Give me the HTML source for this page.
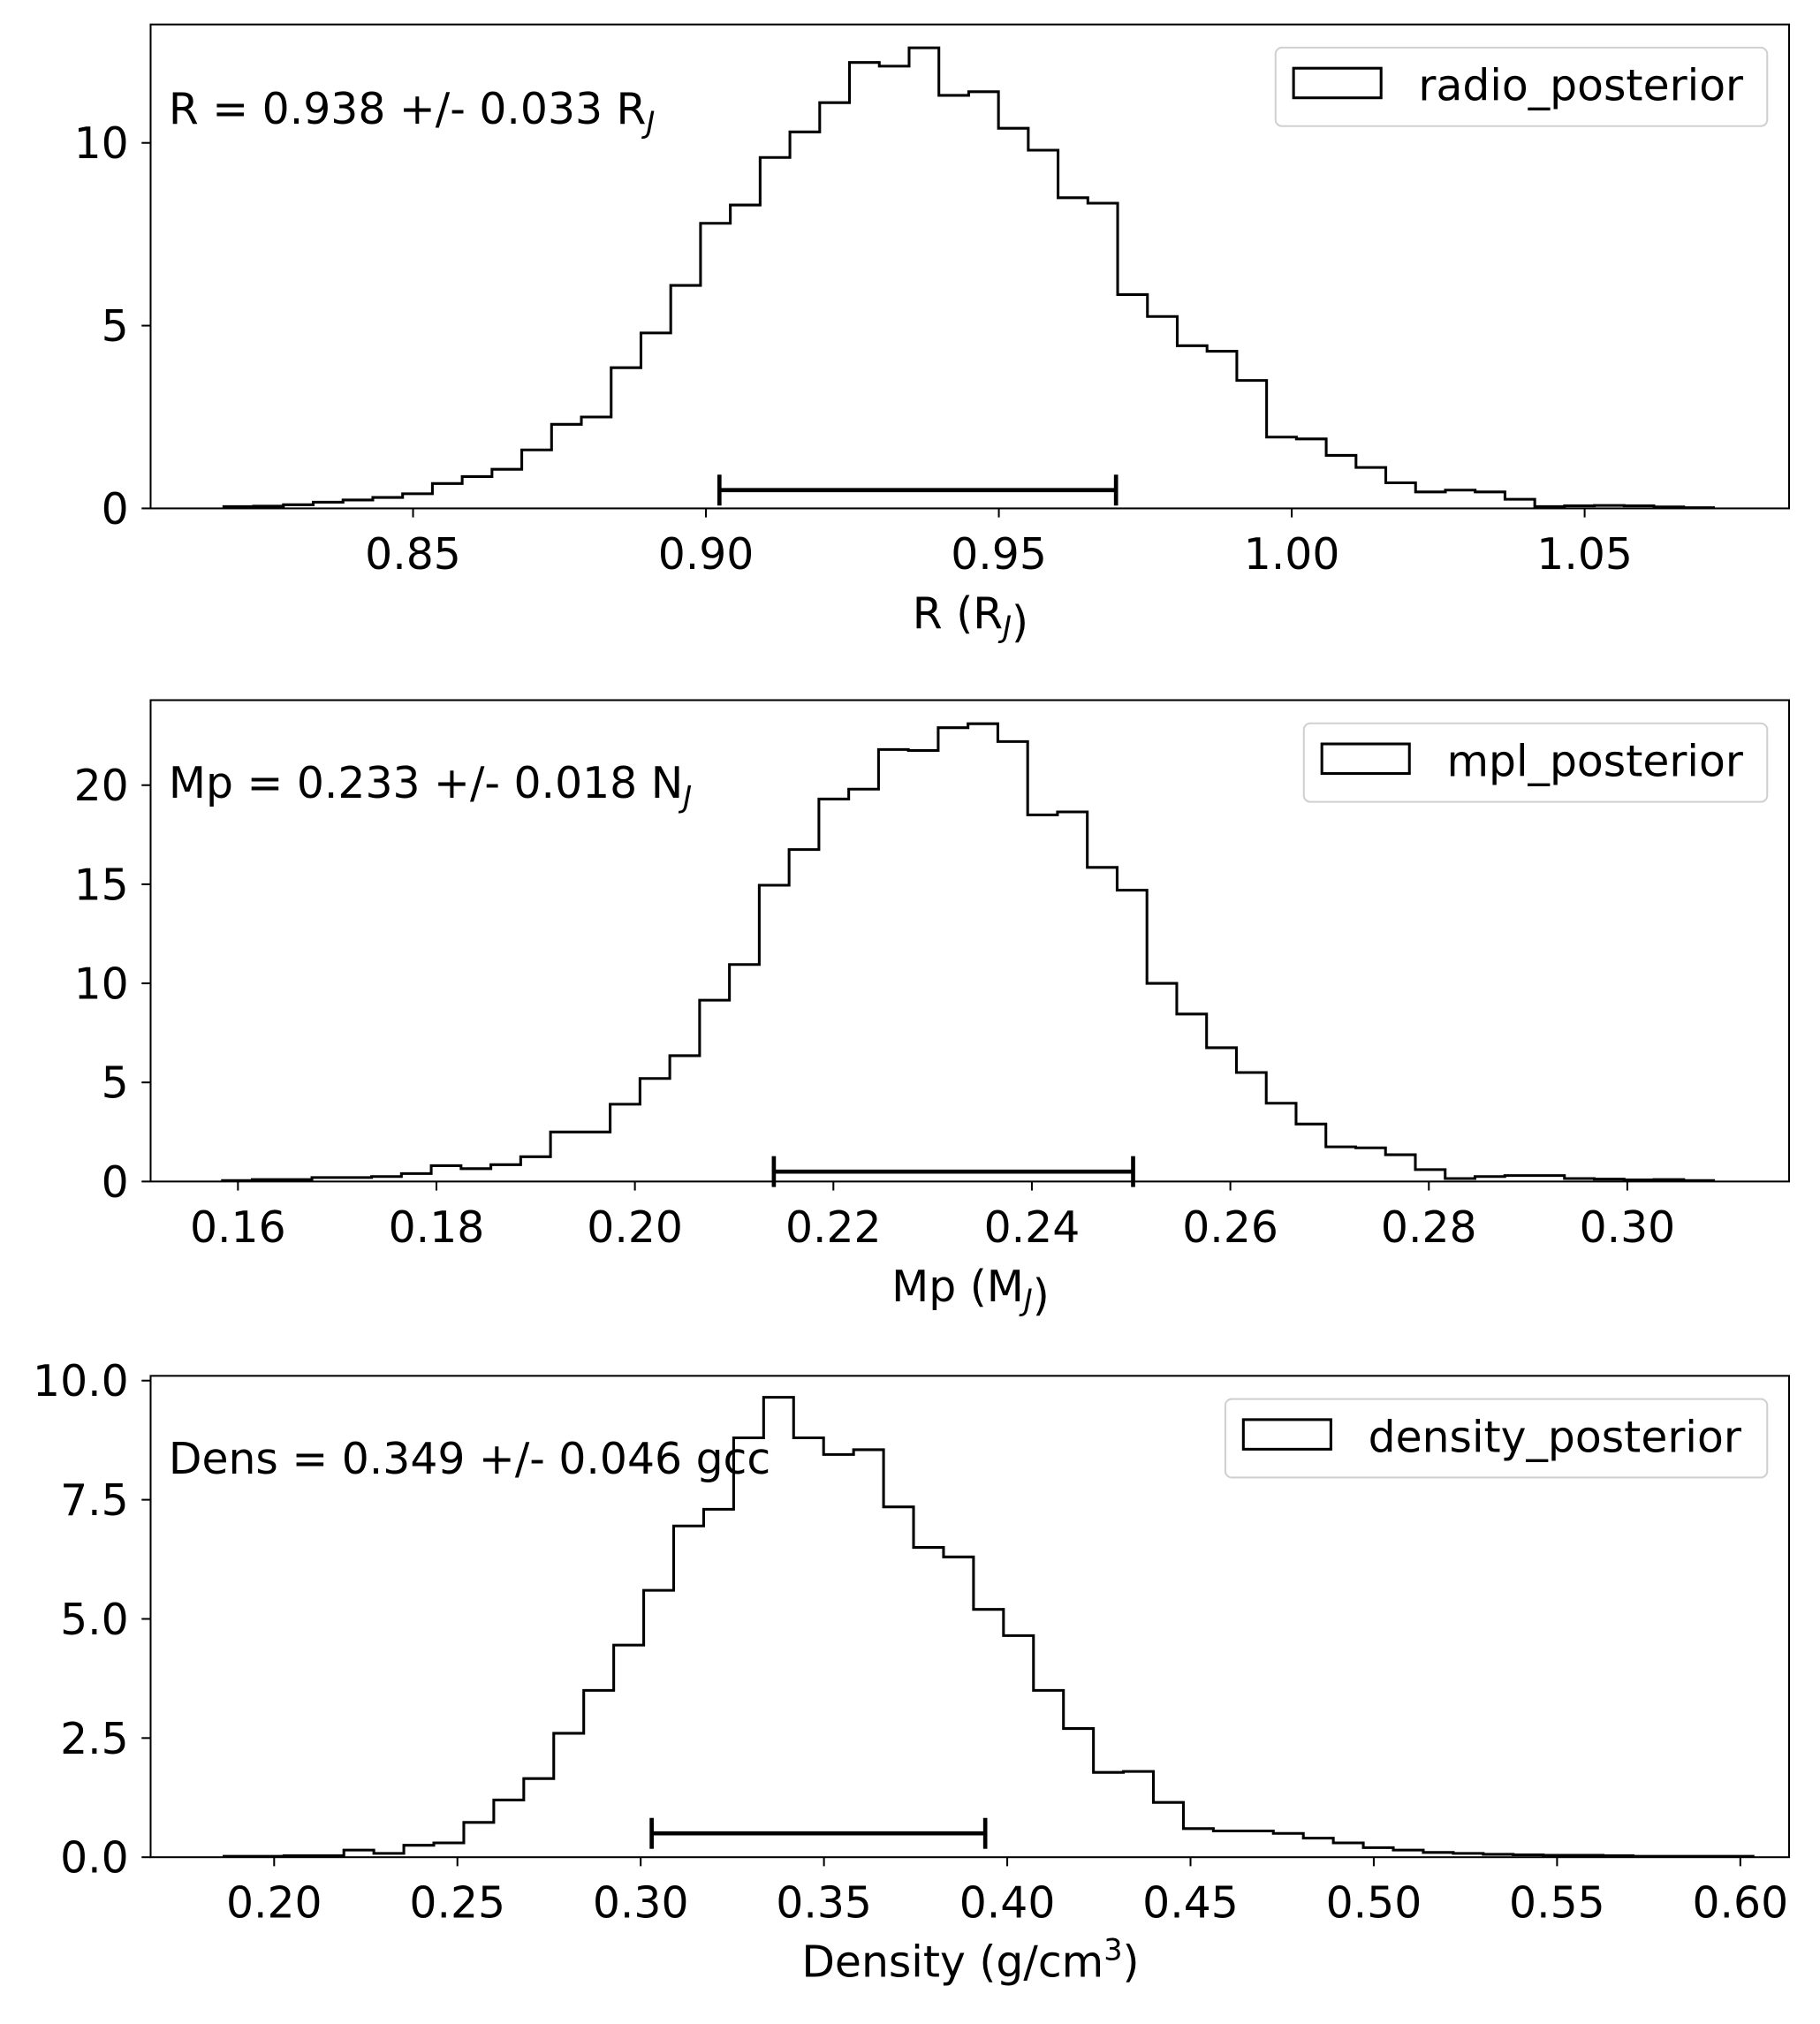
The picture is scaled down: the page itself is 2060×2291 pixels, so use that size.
<!DOCTYPE html>
<html><head><meta charset="utf-8"><style>html,body{margin:0;padding:0;background:#fff}svg{display:block}</style></head>
<body>
<svg id="fig" xmlns="http://www.w3.org/2000/svg" width="2060" height="2291" viewBox="0 0 1414 1572.6" font-family="DejaVu Sans, Liberation Sans, sans-serif"></svg>
<script>
// ---- data ----
const radioCounts = [0.05,0.06,0.1,0.17,0.23,0.3,0.4,0.68,0.87,1.07,1.6,2.3,2.5,3.85,4.8,6.1,7.8,8.3,9.6,10.3,11.1,12.2,12.1,12.6,11.3,11.4,10.4,9.8,8.5,8.35,5.85,5.25,4.45,4.3,3.5,1.95,1.9,1.45,1.12,0.7,0.45,0.5,0.45,0.25,0.05,0.07,0.08,0.07,0.04,0.02];
const radioBinStart = 0.8177, radioBinWidth = 0.005086;
const radioErr = [0.9023, 0.970, 0.5];
const radioXTicks = [0.85,0.90,0.95,1.00,1.05];
const radioXTickLabels = ["0.85","0.90","0.95","1.00","1.05"];
const radioYTicks = [0,5,10];
const radioYTickLabels = ["0","5","10"];

const mplCounts = [0.05,0.1,0.1,0.2,0.2,0.25,0.4,0.8,0.65,0.85,1.25,2.5,2.5,3.9,5.2,6.35,9.15,10.95,14.95,16.75,19.3,19.8,21.8,21.75,22.9,23.1,22.2,18.5,18.65,15.85,14.7,10.0,8.45,6.75,5.5,3.95,2.9,1.75,1.7,1.35,0.6,0.15,0.25,0.3,0.3,0.15,0.12,0.08,0.1,0.05];
const mplBinStart = 0.15844, mplBinWidth = 0.003005;
const mplErr = [0.214, 0.2502, 0.5];
const mplXTicks = [0.16,0.18,0.20,0.22,0.24,0.26,0.28,0.30];
const mplXTickLabels = ["0.16","0.18","0.20","0.22","0.24","0.26","0.28","0.30"];
const mplYTicks = [0,5,10,15,20];
const mplYTickLabels = ["0","5","10","15","20"];

const densCounts = [0.02,0.02,0.03,0.03,0.15,0.08,0.25,0.3,0.73,1.2,1.65,2.6,3.5,4.45,5.6,6.95,7.3,8.8,9.65,8.8,8.45,8.55,7.35,6.5,6.3,5.2,4.65,3.5,2.7,1.78,1.8,1.15,0.6,0.55,0.55,0.5,0.4,0.3,0.2,0.15,0.1,0.08,0.06,0.05,0.04,0.04,0.03,0.02,0.02,0.02,0.02];
const densBinStart = 0.1863, densBinWidth = 0.00818;
const densErr = [0.303, 0.394, 0.5];
const densXTicks = [0.20,0.25,0.30,0.35,0.40,0.45,0.50,0.55,0.60];
const densXTickLabels = ["0.20","0.25","0.30","0.35","0.40","0.45","0.50","0.55","0.60"];
const densYTicks = [0,2.5,5,7.5,10];
const densYTickLabels = ["0.0","2.5","5.0","7.5","10.0"];

const NS = "http://www.w3.org/2000/svg";
const svg = document.getElementById('fig');
const FS = 33.5;
function mk(tag, attrs, parent){const e=document.createElementNS(NS,tag);for(const k in attrs)e.setAttribute(k,attrs[k]);(parent||svg).appendChild(e);return e;}

function panel(cfg){
  const g = mk('g',{});
  
  
  const L=117,R=1390,T=cfg.top,B=cfg.bottom;
  const sx = v => L + (v-cfg.xmin)/(cfg.xmax-cfg.xmin)*(R-L);
  const sy = v => B - (v-cfg.ymin)/(cfg.ymax-cfg.ymin)*(B-T);
  let d = `M${sx(cfg.start)},${sy(0)}`;
  cfg.counts.forEach((c,i)=>{const x0=sx(cfg.start+i*cfg.width),x1=sx(cfg.start+(i+1)*cfg.width);d+=` L${x0},${sy(c)} L${x1},${sy(c)}`;});
  d += ` L${sx(cfg.start+cfg.counts.length*cfg.width)},${sy(0)}`;
  const h = mk('path',{d:d,fill:'none',stroke:'#000','stroke-width':2.1,'stroke-linejoin':'miter'},g);
  
  
  const eg = mk('g',{stroke:'#000','stroke-width':3.2},g);
  
  
  const ey=sy(cfg.err[2]);
  mk('line',{x1:sx(cfg.err[0]),x2:sx(cfg.err[1]),y1:ey,y2:ey},eg);
  mk('line',{x1:sx(cfg.err[0]),x2:sx(cfg.err[0]),y1:ey-12,y2:ey+12},eg);
  mk('line',{x1:sx(cfg.err[1]),x2:sx(cfg.err[1]),y1:ey-12,y2:ey+12},eg);
  const fr = mk('rect',{x:L,y:T,width:R-L,height:B-T,fill:'none',stroke:'#000','stroke-width':1.4},g);
  
  
  cfg.xticks.forEach((v,i)=>{const x=sx(v);
    mk('line',{x1:x,x2:x,y1:B,y2:B+7,stroke:'#000','stroke-width':1.4},g);
    const t=mk('text',{x:x,y:B+47,'font-size':FS,'text-anchor':'middle'},g);t.textContent=cfg.xlabels[i];
    
    
  });
  cfg.yticks.forEach((v,i)=>{const y=sy(v);
    mk('line',{x1:L,x2:L-7,y1:y,y2:y,stroke:'#000','stroke-width':1.4},g);
    const t=mk('text',{x:L-17,y:y+12,'font-size':FS,'text-anchor':'end'},g);t.textContent=cfg.ylabels[i];
    
    
  });
  const an=mk('text',{x:131,y:cfg.annY,'font-size':FS},g);
  
  
  an.innerHTML=cfg.ann;
  const xl=mk('text',{x:754,y:B+93,'font-size':FS,'text-anchor':'middle'},g);
  
  
  xl.innerHTML=cfg.xtitle;
  const lg=mk('g',{},g);
  
  
  mk('rect',{x:cfg.legX,y:T+18,width:1373-cfg.legX,height:61,rx:5,fill:'#fff','fill-opacity':0.8,stroke:'#d0d0d0','stroke-width':1.4},lg);
  mk('rect',{x:cfg.legX+14,y:T+34,width:68,height:23,fill:'none',stroke:'#000','stroke-width':2.1},lg);
  const lt=mk('text',{x:cfg.legX+111,y:T+59,'font-size':FS},lg);lt.textContent=cfg.legend;
  
  
}
const sub = s => `<tspan font-size="23" font-style="italic" dy="7">${s}</tspan><tspan dy="-7"></tspan>`;
panel({name:'radius-panel',top:19,bottom:395,xmin:0.8052,xmax:1.0849,ymin:0,ymax:13.24,
  counts:radioCounts,start:radioBinStart,width:radioBinWidth,err:radioErr,
  xticks:radioXTicks,xlabels:radioXTickLabels,yticks:radioYTicks,ylabels:radioYTickLabels,
  annY:96,ann:'R = 0.938 +/- 0.033 R'+sub('J'),xtitle:'R (R'+sub('J')+')',legX:991,legend:'radio_posterior'});
panel({name:'mass-panel',top:544,bottom:918,xmin:0.1512,xmax:0.3163,ymin:0,ymax:24.29,
  counts:mplCounts,start:mplBinStart,width:mplBinWidth,err:mplErr,
  xticks:mplXTicks,xlabels:mplXTickLabels,yticks:mplYTicks,ylabels:mplYTickLabels,
  annY:620,ann:'Mp = 0.233 +/- 0.018 N'+sub('J'),xtitle:'Mp (M'+sub('J')+')',legX:1013,legend:'mpl_posterior'});
panel({name:'density-panel',top:1069,bottom:1443,xmin:0.1663,xmax:0.6133,ymin:0,ymax:10.1,
  counts:densCounts,start:densBinStart,width:densBinWidth,err:densErr,
  xticks:densXTicks,xlabels:densXTickLabels,yticks:densYTicks,ylabels:densYTickLabels,
  annY:1145,ann:'Dens = 0.349 +/- 0.046 gcc',xtitle:'Density (g/cm<tspan font-size="23" dy="-13">3</tspan><tspan dy="13">)</tspan>',legX:952,legend:'density_posterior'});
</script>
</body></html>
